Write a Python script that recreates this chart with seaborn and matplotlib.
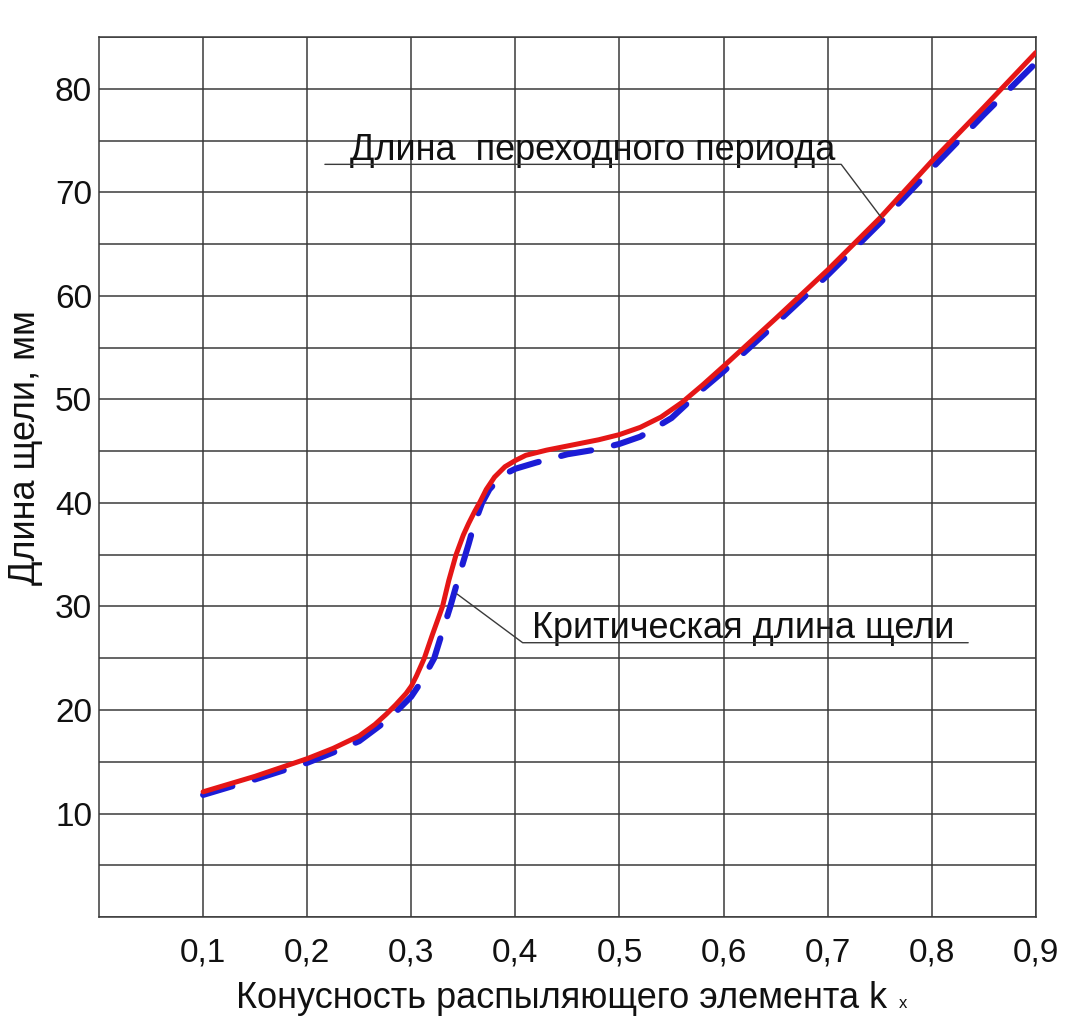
import numpy as np
import pandas as pd
import seaborn as sns
import matplotlib.pyplot as plt
from matplotlib.ticker import MultipleLocator, FixedLocator

# Длина переходного периода (красная сплошная)
red_x = [0.10, 0.15, 0.20, 0.225, 0.25, 0.265, 0.276, 0.285, 0.295, 0.30,
         0.305, 0.3125, 0.32, 0.33, 0.336, 0.343, 0.35, 0.355, 0.361, 0.366,
         0.372, 0.38, 0.39, 0.40, 0.41, 0.43, 0.45, 0.48, 0.50, 0.52,
         0.54, 0.56, 0.58, 0.60, 0.65, 0.70, 0.75, 0.80, 0.85, 0.90]
red_y = [12.1, 13.6, 15.3, 16.3, 17.5, 18.6, 19.6, 20.5, 21.6, 22.3,
         23.3, 25.0, 27.2, 30.0, 32.5, 35.0, 36.9, 38.0, 39.2, 40.1,
         41.3, 42.5, 43.5, 44.1, 44.6, 45.1, 45.5, 46.1, 46.6, 47.3,
         48.3, 49.7, 51.4, 53.2, 57.8, 62.5, 67.5, 73.0, 78.2, 83.5]

# Критическая длина щели (синяя штриховая)
blue_x = [0.10, 0.15, 0.20, 0.225, 0.25, 0.27, 0.282, 0.29, 0.30, 0.31,
          0.322, 0.33, 0.3375, 0.346, 0.355, 0.36, 0.368, 0.375, 0.385, 0.39,
          0.40, 0.42, 0.45, 0.48, 0.50, 0.52, 0.55, 0.58, 0.60, 0.65,
          0.70, 0.75, 0.80, 0.85, 0.90]
blue_y = [11.8, 13.3, 14.9, 15.9, 17.0, 18.5, 19.5, 20.3, 21.3, 22.8,
          25.0, 27.6, 30.0, 33.0, 36.0, 37.8, 40.0, 41.3, 42.4, 42.8,
          43.3, 43.9, 44.7, 45.2, 45.7, 46.4, 48.2, 51.0, 52.7, 57.3,
          62.0, 67.0, 72.3, 77.5, 82.5]

x_ticks = [0.1, 0.2, 0.3, 0.4, 0.5, 0.6, 0.7, 0.8, 0.9]
x_labels = ["0,1", "0,2", "0,3", "0,4", "0,5", "0,6", "0,7", "0,8", "0,9"]
y_ticks = [10, 20, 30, 40, 50, 60, 70, 80]

sns.set_style("white")
plt.rcParams['font.family'] = ['Liberation Sans', 'DejaVu Sans']

red = pd.DataFrame({"k": red_x, "L": red_y})
blue = pd.DataFrame({"k": blue_x, "L": blue_y})

fig = plt.figure(figsize=(10.67, 10.19), dpi=100)
ax = fig.add_axes([0.0928, 0.100, 0.878, 0.8637])

gc = "#3a3a3a"
sns.lineplot(data=blue, x="k", y="L", ax=ax, color="#1c1cd6", lw=4.4,
             sort=False, zorder=3)
ax.lines[-1].set_dashes([5.0, 3.8])
ax.lines[-1].set_dash_capstyle("round")
sns.lineplot(data=red, x="k", y="L", ax=ax, color="#e51616", lw=3.6,
             sort=False, zorder=4)
ax.lines[-1].set_solid_joinstyle("round")

ax.set_xlim(0, 0.9)
ax.set_ylim(0, 85)
ax.xaxis.set_major_locator(FixedLocator(x_ticks))
ax.set_xticklabels(x_labels)
ax.yaxis.set_major_locator(FixedLocator(y_ticks))
ax.yaxis.set_minor_locator(MultipleLocator(5))
ax.grid(True, which="both", color=gc, lw=1.1)
ax.tick_params(axis="both", which="both", length=0, labelsize=24, colors="#111111")
ax.tick_params(axis="x", pad=15)
ax.tick_params(axis="y", pad=5)
for s in ax.spines.values():
    s.set_visible(True)
    s.set_color(gc)
    s.set_linewidth(1.1)

ax.set_xlabel("Конусность распыляющего элемента k", fontsize=26, color="#111111")
ax.set_ylabel("Длина щели, мм", fontsize=26, color="#111111")
ax.xaxis.set_label_coords(0.494, -0.073)
ax.yaxis.set_label_coords(-0.06, 0.534)
# маленький индекс x у k
fig.text(0.846, 0.008, "x", fontsize=12, color="#111111", ha="center", va="bottom")

# выноски
ax.plot([0.752, 0.713, 0.217], [67.5, 72.7, 72.7], color=gc, lw=1.0, zorder=5)
ax.text(0.241, 73.1, "Длина  переходного периода", fontsize=26, va="baseline", ha="left", color="#111111")
ax.plot([0.344, 0.407, 0.835], [31.2, 26.5, 26.5], color=gc, lw=1.0, zorder=5)
ax.text(0.416, 27.0, "Критическая длина щели", fontsize=26, va="baseline", ha="left", color="#111111")

fig.savefig("out.png", dpi=100, facecolor="white")
